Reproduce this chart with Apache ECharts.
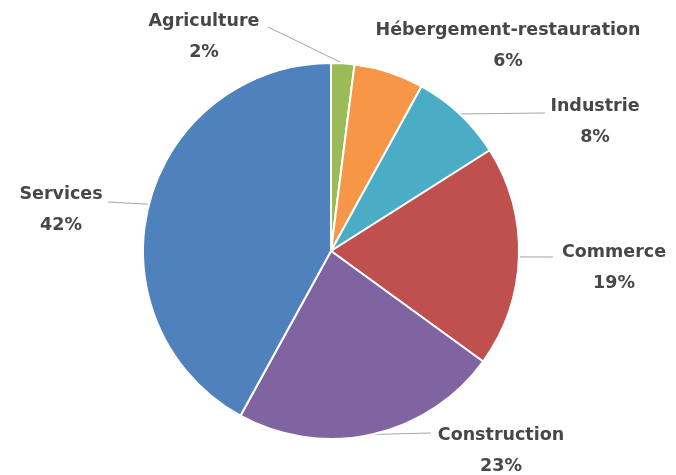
<!DOCTYPE html>
<html>
<head>
<meta charset="utf-8">
<style>
  html, body { margin: 0; padding: 0; background: #ffffff; }
  #chart { width: 676px; height: 475px; }
</style>
<script src="https://cdn.jsdelivr.net/npm/echarts@6/dist/echarts.min.js"></script>
</head>
<body>
<div id="chart"></div>
<script>
// Share of establishments by sector (%), clockwise from 12 o'clock
const sectors = ['Agriculture', 'Hébergement-restauration', 'Industrie', 'Commerce', 'Construction', 'Services'];
const shares = [2, 6, 8, 19, 23, 42];
const sectorColors = ['#9BBB59', '#F79646', '#4BACC6', '#C0504D', '#8064A2', '#4F81BD'];

// Label block centres and where each leader line meets its label
const labelSpots = [
  { x: 204, y: 37, end: [268, 27] },
  { x: 508, y: 46, end: null },
  { x: 595, y: 122, end: [545, 113] },
  { x: 614, y: 268, end: [553, 257] },
  { x: 501, y: 451, end: [431, 433] },
  { x: 61, y: 210, end: [108, 202] }
];

const chart = echarts.init(document.getElementById('chart'), null, { renderer: 'canvas' });

chart.setOption({
  animation: false,
  backgroundColor: '#ffffff',
  series: [{
    type: 'pie',
    center: [331, 251],
    radius: 188,
    startAngle: 90,
    clockwise: true,
    avoidLabelOverlap: false,
    itemStyle: { borderColor: '#ffffff', borderWidth: 2 },
    label: {
      show: true,
      position: 'outside',
      formatter: '{b}\n{c}%',
      fontFamily: 'DejaVu Sans',
      fontWeight: 'bold',
      fontSize: 17.5,
      lineHeight: 31,
      color: '#474747',
      align: 'center'
    },
    labelLine: {
      show: true,
      lineStyle: { color: '#a6a6a6', width: 1 }
    },
    labelLayout: function (params) {
      const spot = labelSpots[params.dataIndex];
      const out = { x: spot.x, y: spot.y, align: 'center', verticalAlign: 'middle' };
      if (spot.end && params.labelLinePoints) {
        const start = params.labelLinePoints[0];
        out.labelLinePoints = [start, spot.end, spot.end];
      }
      return out;
    },
    data: sectors.map(function (name, i) {
      const item = { name: name, value: shares[i], itemStyle: { color: sectorColors[i] } };
      if (!labelSpots[i].end) item.labelLine = { show: false };
      return item;
    })
  }]
});
</script>
</body>
</html>
